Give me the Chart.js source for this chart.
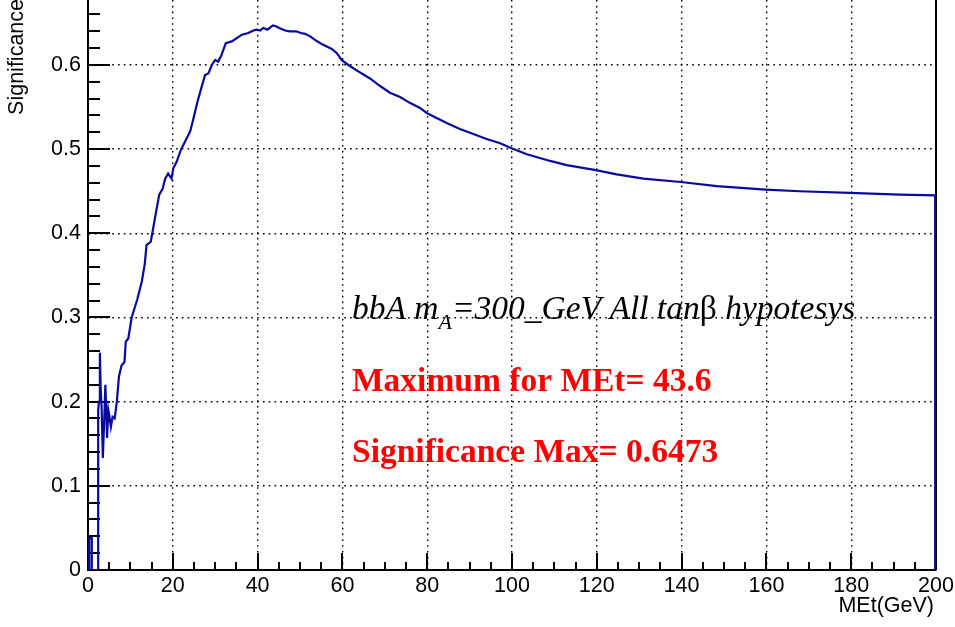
<!DOCTYPE html>
<html>
<head>
<meta charset="utf-8">
<script src="https://cdn.jsdelivr.net/npm/chart.js@4"></script>
<style>
  body { margin: 0; background: #fff; }
  #wrap { width: 955px; height: 627px; }
</style>
</head>
<body>
<div id="wrap"><canvas id="myChart" width="955" height="627"></canvas></div>
<script>
// MEt cut (GeV) and significance
var metCut = [0, 0.3, 0.3, 0.9, 0.9, 2.4, 2.4, 2.6, 2.8, 3.0, 3.2, 3.5, 3.8, 4.1, 4.5, 4.8, 5.0, 5.4, 5.8, 6.3,
    6.8, 7.3, 7.9, 8.6, 8.9, 9.5, 10.3, 11.1, 11.6, 12.7, 13.4, 13.8, 14.8, 15.3, 16.0, 16.8, 17.6, 18.2, 18.9, 19.7,
    20.1, 20.9, 21.9, 22.9, 24.1, 24.8, 25.8, 26.8, 27.6, 28.4, 29.2, 30.0, 30.7, 31.5, 32.5, 33.9, 35.1, 36.3, 37.8, 39.0,
    39.8, 40.6, 41.3, 42.3, 43.6, 44.3, 45.1, 46.5, 47.6, 49.1, 50.2, 51.2, 52.4, 53.8, 55.1, 56.3, 57.5, 58.7, 59.8, 61.4,
    64.2, 66.5, 68.9, 71.2, 73.6, 75.9, 78.3, 79.9, 82.2, 84.6, 87.7, 90.9, 94.0, 97.2, 99.9, 103.5, 109.0, 112.9, 119.8, 124.7,
    131.0, 139.8, 148.3, 159.8, 167.9, 179.7, 191.5, 199.8, 199.8];
var significance = [0, 0, 0.038, 0.038, 0, 0, 0.19, 0.2, 0.258, 0.214, 0.195, 0.133, 0.175, 0.22, 0.157, 0.19, 0.184, 0.17, 0.182, 0.18,
    0.2, 0.23, 0.243, 0.247, 0.271, 0.275, 0.30, 0.313, 0.321, 0.343, 0.364, 0.386, 0.39, 0.404, 0.424, 0.446, 0.453, 0.465, 0.471, 0.465,
    0.477, 0.485, 0.499, 0.509, 0.521, 0.535, 0.556, 0.574, 0.588, 0.59, 0.60, 0.606, 0.604, 0.612, 0.626, 0.628, 0.632, 0.636, 0.638, 0.641,
    0.642, 0.641, 0.644, 0.642, 0.647, 0.646, 0.644, 0.641, 0.640, 0.640, 0.638, 0.637, 0.634, 0.629, 0.625, 0.622, 0.619, 0.614, 0.606, 0.600,
    0.591, 0.584, 0.575, 0.567, 0.562, 0.555, 0.549, 0.543, 0.537, 0.531, 0.524, 0.518, 0.512, 0.507, 0.501, 0.494, 0.486, 0.481, 0.475, 0.470,
    0.465, 0.461, 0.456, 0.452, 0.450, 0.448, 0.446, 0.445, 0];
var xTicks = [0, 20, 40, 60, 80, 100, 120, 140, 160, 180, 200];
var yTicks = [0, 0.1, 0.2, 0.3, 0.4, 0.5, 0.6];

var points = metCut.map(function (x, i) { return { x: x, y: significance[i] }; });

var tickFont = { family: 'Liberation Sans', size: 21.5 };

// ROOT-like frame: inward tick marks, right frame line, titles and labels
var rootFrame = {
    id: 'rootFrame',
    beforeDatasetsDraw: function (chart) {
        var c = chart.ctx, a = chart.chartArea;
        var xs = chart.scales.x, ys = chart.scales.y;
        c.save();
        c.strokeStyle = '#000';
        c.lineWidth = 2;
        c.beginPath();
        for (var v = 0; v <= 0.661; v += 0.02) {
            var py = Math.round(ys.getPixelForValue(v));
            var major = Math.abs(v * 10 - Math.round(v * 10)) < 1e-6;
            c.moveTo(a.left, py);
            c.lineTo(a.left + (major ? 22 : 12), py);
        }
        for (var t = 5; t <= 200; t += 5) {
            var px = Math.round(xs.getPixelForValue(t));
            c.moveTo(px, a.bottom);
            c.lineTo(px, a.bottom - (t % 20 === 0 ? 17 : 8));
        }
        c.stroke();
        c.beginPath();
        c.moveTo(a.right, a.top);
        c.lineTo(a.right, a.bottom);
        c.stroke();
        c.restore();
    },
    afterDraw: function (chart) {
        var c = chart.ctx;
        c.save();
        c.fillStyle = '#000';
        c.font = '21.5px "Liberation Sans"';
        c.textAlign = 'right';
        c.textBaseline = 'alphabetic';
        c.fillText('MEt(GeV)', 934, 612);
        c.translate(23, -1);
        c.rotate(-Math.PI / 2);
        c.fillText('Significance', 0, 0);
        c.restore();

        c.save();
        c.textAlign = 'left';
        c.textBaseline = 'alphabetic';
        var x = 352, y = 319;
        var parts = [
            ['italic 33.5px "Liberation Serif"', 'bbA m', 0],
            ['italic 22px "Liberation Serif"', 'A', 10],
            ['italic 33.5px "Liberation Serif"', '=300_GeV All tan', 0],
            ['33.5px "Liberation Serif"', '\u03B2', 0],
            ['italic 33.5px "Liberation Serif"', ' hypotesys', 0]
        ];
        parts.forEach(function (p) {
            c.font = p[0];
            c.fillText(p[1], x, y + p[2]);
            x += c.measureText(p[1]).width;
        });
        c.fillStyle = '#ff0000';
        c.font = 'bold 33.5px "Liberation Serif"';
        c.fillText('Maximum for MEt= 43.6', 352, 391);
        c.fillText('Significance Max= 0.6473', 352, 462);
        c.restore();
    }
};

var ctx = document.getElementById('myChart').getContext('2d');
var myChart = new Chart(ctx, {
    type: 'line',
    data: {
        datasets: [{
            label: 'Significance',
            data: points,
            borderColor: '#0a0a9e',
            borderWidth: 2.2,
            pointRadius: 0,
            tension: 0,
            fill: false
        }]
    },
    options: {
        responsive: false,
        animation: false,
        layout: { padding: { top: 0, right: 19, bottom: 0, left: 0 } },
        plugins: {
            legend: { display: false },
            tooltip: { enabled: false }
        },
        scales: {
            x: {
                type: 'linear',
                min: 0,
                max: 200,
                afterBuildTicks: function (s) { s.ticks = xTicks.map(function (v) { return { value: v }; }); },
                afterFit: function (s) { s.height = 57; s.paddingLeft = 0; s.paddingRight = 0; },
                ticks: { color: '#000', font: tickFont, padding: 3, maxRotation: 0, autoSkip: false },
                grid: { color: '#000', lineWidth: 1.4, drawTicks: false },
                border: { display: true, color: '#000', width: 2, dash: [1.6, 4.2] }
            },
            y: {
                type: 'linear',
                min: 0,
                max: 0.6772,
                afterBuildTicks: function (s) { s.ticks = yTicks.map(function (v) { return { value: v }; }); },
                afterFit: function (s) { s.width = 88; s.paddingTop = 0; s.paddingBottom = 0; },
                ticks: {
                    color: '#000', font: tickFont, padding: 7,
                    callback: function (v) { return v === 0 ? '0' : String(Math.round(v * 10) / 10); }
                },
                grid: { color: '#000', lineWidth: 1.4, drawTicks: false },
                border: { display: true, color: '#000', width: 2, dash: [1.6, 4.2] }
            }
        }
    },
    plugins: [rootFrame]
});
</script>
</body>
</html>
